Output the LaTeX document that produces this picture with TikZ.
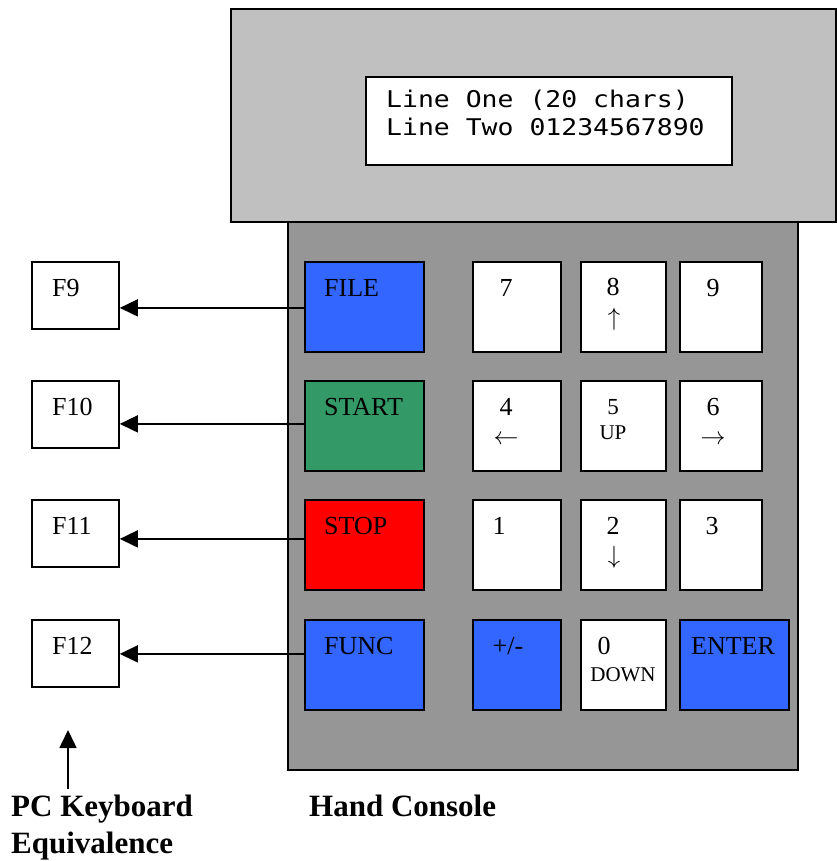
\documentclass[tikz,border=0pt]{standalone}
\usepackage{fontspec}
\setmainfont{Liberation Serif}
\newfontfamily\lcdfont[FakeStretch=1.15]{DejaVu Sans Mono}
\usetikzlibrary{arrows.meta, positioning, calc}
\definecolor{consoleGrey}{HTML}{969696}
\definecolor{displayGrey}{HTML}{C0C0C0}
\definecolor{keyBlue}{HTML}{3366FF}
\definecolor{keyGreen}{HTML}{339966}
\definecolor{keyRed}{HTML}{FF0000}

\begin{document}
\begin{tikzpicture}[x=1pt, y=-1pt, >={Triangle[length=18pt, width=17pt]},
    font=\fontsize{26}{28}\selectfont,
    panel/.style={draw, line width=1.8pt, inner sep=0pt, anchor=north west},
    keybox/.style={panel, minimum height=90pt, minimum width=#1},
    fbox/.style={panel, fill=white, minimum width=87pt, minimum height=67pt},
    keytxt/.style={inner sep=0pt, anchor=center},
    smalltxt/.style={keytxt, font=\fontsize{21}{22}\selectfont},
    caption/.style={inner sep=0pt, font=\fontsize{31}{37}\selectfont\bfseries, align=left},
    mapto/.style={->, line width=1.6pt}]

  \useasboundingbox (0,0) rectangle (836,861);

  % console body and display
  \node[panel, fill=consoleGrey, minimum width=510pt, minimum height=548pt] (body) at (287,221) {};
  \node[panel, fill=displayGrey, minimum width=605pt, minimum height=213pt] (disp) at (230,8) {};
  \node[panel, fill=white, minimum width=366pt, minimum height=88pt] (lcd) at (365,76) {};
  \node[inner sep=0pt, anchor=west, align=left, font=\lcdfont\fontsize{23}{28}\selectfont]
       (lcdtxt) at (386,113) {Line One (20 chars)\\Line Two 01234567890};

  % function keys
  \foreach \k/\y/\c/\t in {file/261/keyBlue/FILE, start/380/keyGreen/START,
                           stop/499/keyRed/STOP, func/619/keyBlue/FUNC} {
    \node[keybox=119pt, fill=\c] (\k) at (304,\y) {};
    \node[keytxt, anchor=west] (\k-txt) at ($(\k.north west)+(20,27)$) {\t};
  }

  % number pad
  \foreach \k/\x/\y/\w/\c in {k7/472/261/88/white, k8/580/261/85/white, k9/679/261/82/white,
                              k4/472/380/88/white, k5/580/380/85/white, k6/679/380/82/white,
                              k1/472/499/88/white, k2/580/499/85/white, k3/679/499/82/white,
                              kpm/472/619/88/keyBlue, k0/580/619/85/white, enter/679/619/109/keyBlue} {
    \node[keybox=\w pt, fill=\c] (\k) at (\x,\y) {};
  }

  \foreach \k/\dx/\t in {k7/34/7, k9/34/9, k4/34/4, k6/34/6,
                         k1/27/1, k2/33/2, k3/33/3, kpm/36/{+/-}, k0/24/0, enter/54/ENTER} {
    \node[keytxt] (\k-txt) at ($(\k.north west)+(\dx,27)$) {\t};
  }
  \node[keytxt] (k8-txt) at ($(k8.north west)+(33,26)$) {8};
  \node[keytxt, font=\fontsize{23}{24}\selectfont] (k5-txt) at ($(k5.north west)+(33,27)$) {5};

  \node[keytxt] (k8-sym) at ($(k8.north west)+(34,58)$) {$\uparrow$};
  \node[keytxt] (k4-sym) at ($(k4.north west)+(34,60)$) {$\leftarrow$};
  \node[keytxt] (k6-sym) at ($(k6.north west)+(34,60)$) {$\rightarrow$};
  \node[keytxt] (k2-sym) at ($(k2.north west)+(34,58)$) {$\downarrow$};
  \node[smalltxt] (k5-sym) at ($(k5.north west)+(33,53)$) {UP};
  \node[smalltxt] (k0-sym) at ($(k0.north west)+(43,56)$) {DOWN};

  % PC keys
  \foreach \f/\y/\t in {f9/261/F9, f10/380/F10, f11/499/F11, f12/619/F12} {
    \node[fbox] (\f) at (31,\y) {};
    \node[keytxt, anchor=west] (\f-txt) at ($(\f.north west)+(21,27)$) {\t};
  }

  \foreach \k/\f/\dy in {file/f9/1, start/f10/-2, stop/f11/-6, func/f12/-11} {
    \draw[mapto] ($(\k.west)+(0,\dy)$) -- ($(\f.east |- \k.west)+(0,\dy)$);
  }

  % captions
  \node[caption, anchor=north west] (pclbl) at (11,795) {PC Keyboard\\Equivalence};
  \node[caption, anchor=north west] (hclbl) at (309,795) {Hand Console};
  \coordinate (pctip) at (68,730);
  \draw[mapto] ($(pclbl.north -| pctip)+(0,-6)$) -- (pctip);

\end{tikzpicture}
\end{document}
